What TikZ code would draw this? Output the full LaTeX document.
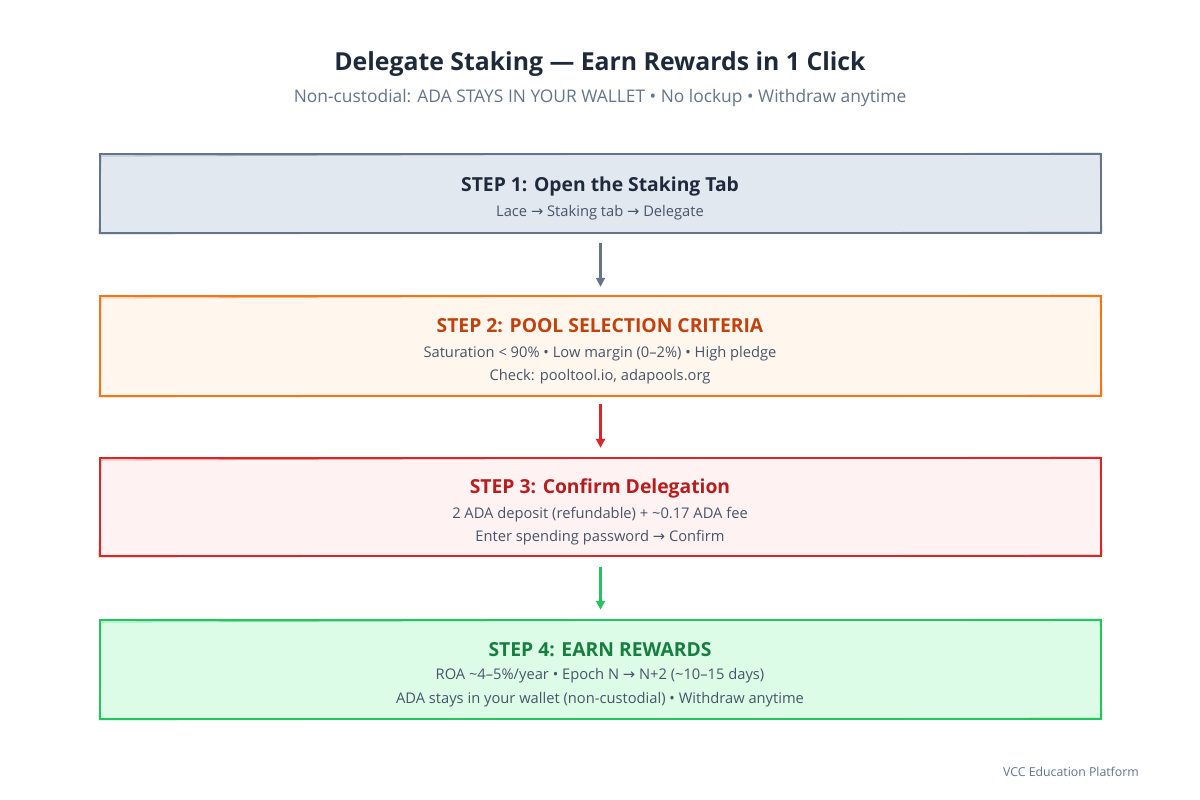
\documentclass[tikz,border=0pt]{standalone}
\usepackage{fontspec}
\setmainfont{Open Sans}
\newfontfamily\symf{DejaVu Sans}
\usetikzlibrary{arrows.meta}
\newcommand{\arr}{{\symf\char"2192}}
\definecolor{navy}{HTML}{1E293B}
\definecolor{slate}{HTML}{64748B}
\definecolor{slatetxt}{HTML}{475569}
\definecolor{f1}{HTML}{E2E8F0}
\definecolor{f2}{HTML}{FFF7ED}
\definecolor{s2}{HTML}{F97316}
\definecolor{t2}{HTML}{C2410C}
\definecolor{f3}{HTML}{FEF2F2}
\definecolor{s3}{HTML}{DC2626}
\definecolor{t3}{HTML}{B91C1C}
\definecolor{f4}{HTML}{DCFCE7}
\definecolor{s4}{HTML}{22C55E}
\definecolor{t4}{HTML}{15803D}
\tikzset{
  stepbox/.style={rectangle, draw, line width=2.5pt, minimum width=1001pt, inner sep=0pt},
  steptitle/.style={font=\bfseries\fontsize{19.3}{22}\selectfont, inner sep=0pt, anchor=center},
  stepline/.style={font=\fontsize{14.7}{17}\selectfont, text=slatetxt, inner sep=0pt, anchor=center},
  flow/.style={line width=2.2pt, -{Triangle[length=9pt,width=9pt]}},
}
\begin{document}
\begin{tikzpicture}[x=1pt,y=-1pt]
\useasboundingbox (0,0) rectangle (1200,800);
\fill[white] (0,0) rectangle (1200,800);
% title
\node[font=\bfseries\fontsize{24.8}{28}\selectfont, text=navy, inner sep=0pt] (title) at (600,64.5) {Delegate Staking — Earn Rewards in 1 Click};
\node[font=\fontsize{17.4}{20}\selectfont, text=slate, inner sep=0pt] (subtitle) at (600,98) {Non-custodial: ADA STAYS IN YOUR WALLET • No lockup • Withdraw anytime};
% boxes
\node[stepbox, draw=slate, fill=f1, minimum height=79pt] (b1) at (600.5,193.5) {};
\node[stepbox, draw=s2, fill=f2, minimum height=100pt] (b2) at (600.5,346) {};
\node[stepbox, draw=s3, fill=f3, minimum height=98pt] (b3) at (600.5,507) {};
\node[stepbox, draw=s4, fill=f4, minimum height=99pt] (b4) at (600.5,669.5) {};
% sketchy second strokes
\draw[slate, line width=0.8pt, opacity=0.5] (101,156) -- (1100,153) -- (1102,232) -- (99,234) -- cycle;
\draw[s2, line width=0.8pt, opacity=0.5] (101,298) -- (1100,295) -- (1102,395) -- (99,397) -- cycle;
\draw[s3, line width=0.8pt, opacity=0.5] (101,460) -- (1100,457) -- (1102,555) -- (99,557) -- cycle;
\draw[s4, line width=0.8pt, opacity=0.5] (101,622) -- (1100,619) -- (1102,718) -- (99,720) -- cycle;
% texts
\node[steptitle, text=navy] (h1) at (600,186) {STEP 1: Open the Staking Tab};
\node[stepline] (l11) at (600,213) {Lace \arr{} Staking tab \arr{} Delegate};
\node[steptitle, text=t2] (h2) at (600,326) {STEP 2: POOL SELECTION CRITERIA};
\node[stepline] (l21) at (600,354) {Saturation < 90\% • Low margin (0–2\%) • High pledge};
\node[stepline] (l22) at (600,377) {Check: pooltool.io, adapools.org};
\node[steptitle, text=t3] (h3) at (600,488) {STEP 3: Confirm Delegation};
\node[stepline] (l31) at (600,515) {2 ADA deposit (refundable) + \textasciitilde0.17 ADA fee};
\node[stepline] (l32) at (600,538) {Enter spending password \arr{} Confirm};
\node[steptitle, text=t4] (h4) at (600,650) {STEP 4: EARN REWARDS};
\node[stepline] (l41) at (600,676) {ROA \textasciitilde4–5\%/year • Epoch N \arr{} N+2 (\textasciitilde10–15 days)};
\node[stepline] (l42) at (600,700) {ADA stays in your wallet (non-custodial) • Withdraw anytime};
% arrows
\draw[flow, slate, shorten <=9pt, shorten >=8pt] (b1.south) -- (b2.north);
\draw[flow, s3, shorten <=7pt, shorten >=9pt] (b2.south) -- (b3.north);
\draw[flow, s4, shorten <=10pt, shorten >=9pt] (b3.south) -- (b4.north);
% footer
\node[font=\fontsize{12.3}{14}\selectfont, text=slate, inner sep=0pt, anchor=east] (footer) at (1139,772) {VCC Education Platform};
\end{tikzpicture}
\end{document}
